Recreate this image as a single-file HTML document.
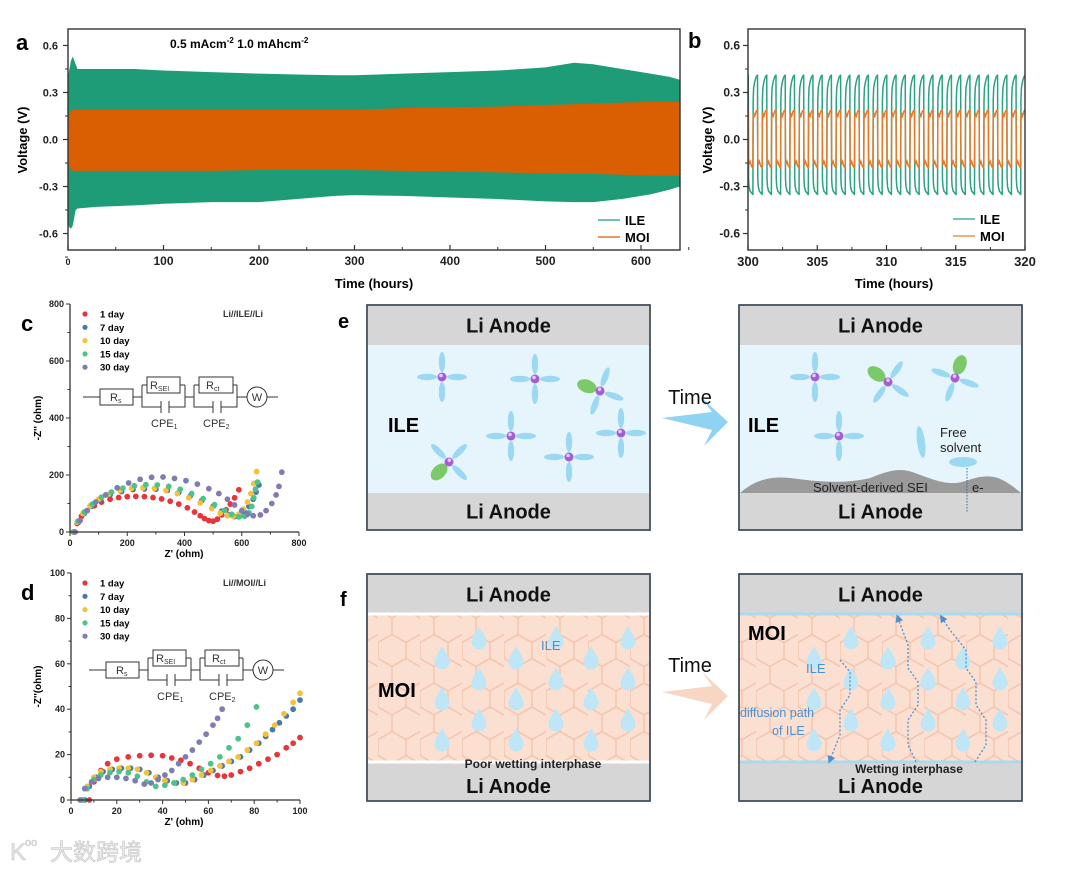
<!DOCTYPE html>
<html><head><meta charset="utf-8"><style>
html,body{margin:0;padding:0;background:#fff;width:1080px;height:869px;overflow:hidden}
svg text{font-family:"Liberation Sans",Arial,sans-serif}
</style></head><body>
<svg id="fig" width="1080" height="869" viewBox="0 0 1080 869" xmlns="http://www.w3.org/2000/svg">
<defs>
<pattern id="hex" width="42" height="48.5" patternUnits="userSpaceOnUse">
<path d="M0,12 L14,4 L28,12 L28,28 L14,36 L0,28 Z M28,12 L42,4 M28,28 L42,36 M14,36 L14,52 M14,4 L14,-12" fill="none" stroke="#f4c6b0" stroke-width="1.6"/>
</pattern>
<clipPath id="clipA"><rect x="68" y="29" width="612" height="221"/></clipPath>
<clipPath id="clipB"><rect x="748" y="29" width="277" height="221"/></clipPath>
<marker id="arr" markerWidth="6" markerHeight="6" refX="3" refY="3" orient="auto"><path d="M0,0 L6,3 L0,6 Z" fill="#4f8fd0"/></marker>
</defs>
<g id="root"></g>
</svg>
<script>
// ---------- Panel a data ----------
const aTime=[0,3,5,8,10,30,70,100,150,200,240,280,300,350,400,450,500,530,550,580,610,630,641];
const aIleTop=[0.40,0.50,0.53,0.48,0.45,0.45,0.45,0.44,0.43,0.42,0.415,0.41,0.41,0.42,0.43,0.44,0.46,0.49,0.48,0.45,0.42,0.40,0.38];
const aIleBot=[-0.55,-0.57,-0.55,-0.45,-0.44,-0.43,-0.42,-0.41,-0.40,-0.40,-0.38,-0.36,-0.355,-0.36,-0.37,-0.38,-0.395,-0.40,-0.40,-0.38,-0.35,-0.32,-0.30];
const aMoiTop=[0.15,0.18,0.19,0.19,0.19,0.19,0.19,0.19,0.19,0.19,0.19,0.19,0.19,0.20,0.205,0.21,0.22,0.225,0.23,0.235,0.24,0.24,0.24];
const aMoiBot=[-0.15,-0.19,-0.2,-0.2,-0.2,-0.2,-0.2,-0.2,-0.2,-0.195,-0.195,-0.195,-0.195,-0.2,-0.205,-0.21,-0.215,-0.22,-0.22,-0.225,-0.23,-0.23,-0.23];
const aXTicks=[0,100,200,300,400,500,600];
const vTicks=[0.6,0.3,0.0,-0.3,-0.6];
const vTickLabels=["0.6","0.3","0.0","-0.3","-0.6"];
// ---------- Panel b data ----------
const bStart=300, bEnd=320, bCycles=30, bPhase0=0.47;
const bTplPhase=[0,0.03,0.08,0.2,0.35,0.48,0.5,0.53,0.58,0.7,0.85,0.98,1.0];
const bIleV=[-0.35,0.25,0.33,0.37,0.40,0.41,0.41,-0.25,-0.30,-0.33,-0.34,-0.35,-0.35];
const bMoiV=[-0.18,0.13,0.17,0.15,0.18,0.19,0.19,-0.12,-0.16,-0.14,-0.17,-0.18,-0.18];
const bXTicks=[300,305,310,315,320];
// ---------- Panel c data (Z', -Z'') ----------
const cDay1=[[15,0],[25,30],[40,55],[60,75],[85,92],[110,105],[140,115],[170,121],[200,124],[230,125],[260,124],[290,121],[320,116],[350,108],[380,98],[410,85],[435,70],[455,57],[470,47],[485,40],[500,38],[515,45],[530,60],[545,78],[560,98],[575,120],[590,148]];
const cDay7=[[15,0],[30,35],[50,65],[75,90],[105,112],[140,130],[180,142],[220,149],[260,151],[300,150],[340,146],[380,138],[420,126],[460,110],[500,90],[530,73],[555,60],[575,54],[595,57],[610,70],[625,90],[640,115],[650,140],[660,165]];
const cDay10=[[10,0],[25,35],[45,65],[70,92],[100,115],[135,133],[175,146],[215,153],[255,155],[295,153],[335,146],[375,135],[415,120],[455,102],[495,82],[525,66],[550,57],[570,55],[590,62],[605,80],[620,105],[632,135],[642,170],[652,212]];
const cDay15=[[12,0],[28,38],[50,70],[78,98],[110,122],[145,140],[185,154],[225,162],[265,166],[305,165],[345,160],[385,150],[425,135],[465,117],[505,96],[540,76],[565,62],[590,53],[610,55],[625,68],[635,90],[642,120],[648,150],[655,175]];
const cDay30=[[18,0],[35,40],[60,75],[90,105],[125,130],[165,155],[205,172],[245,185],[285,192],[325,193],[365,188],[405,180],[445,168],[485,152],[520,135],[550,115],[575,95],[600,75],[620,62],[640,57],[665,60],[685,75],[705,100],[720,130],[730,160],[740,210]];
const cTicks=[0,200,400,600,800];
// ---------- Panel d data ----------
const dDay1=[[8,0],[10,8],[13,13],[16,16],[20,18],[25,19],[30,19.5],[35,19.7],[40,19.5],[44,18.5],[48,17.5],[52,16],[56,14],[60,12],[64,10.8],[67,10.5],[70,11],[74,12.5],[78,14],[82,16],[86,18],[90,20],[94,23],[97,25],[100,27.5]];
const dDay7=[[6,0],[8,6],[11,10],[14,12.5],[18,13.5],[22,14],[26,14],[30,13.5],[34,12],[38,10],[42,8.5],[46,7.5],[50,7.5],[54,9],[58,11],[62,13],[66,15],[70,17],[74,19],[78,22],[82,25],[85,28],[88,31],[91,34],[94,37],[97,40],[100,44]];
const dDay10=[[5,0],[7,6],[10,10],[13,12.5],[17,13.5],[21,14],[25,14],[29,13.5],[33,12],[37,10],[41,8.5],[45,7.5],[49,7.5],[53,9],[57,11],[61,13],[65,15],[69,17],[73,19],[77,22],[81,25],[85,29],[89,33],[93,38],[97,43],[100,47]];
const dDay15=[[5,0],[7,5],[10,9],[13,11],[17,12],[21,12.5],[25,12],[29,10.5],[33,8],[37,6],[41,6.5],[45,7.5],[49,9],[53,11],[57,13.5],[61,16],[65,19],[69,23],[73,27],[77,33],[81,41]];
const dDay30=[[4,0],[6,5],[9,8],[12,9.5],[16,10],[20,10],[24,9.5],[28,8.5],[32,7],[35,7.5],[38,9],[41,11],[44,13],[47,16],[50,19],[53,22],[56,25.5],[59,29],[62,33],[64,36],[66,40]];
const dTicks=[0,20,40,60,80,100];
const dayLabels=["1 day","7 day","10 day","15 day","30 day"];

const NS="http://www.w3.org/2000/svg";
const root=document.getElementById('root');
function el(tag,attrs,parent){const e=document.createElementNS(NS,tag);for(const k in attrs)e.setAttribute(k,attrs[k]);(parent||root).appendChild(e);return e;}
function txt(s,attrs,parent){const t=el('text',attrs,parent);t.textContent=s;return t;}

const ax=t=>68+t*0.955, ay=v=>139.5-v*156.7;
const bx=t=>748+(t-300)*(277/20), by=v=>139.5-v*156.7;
const cx=z=>70+z*229/800, cy=z=>532-z*228/800;
const dx=z=>71+z*2.29, dy=z=>800-z*2.27;

// ======== Panel a ========
let g=el('g',{});


let pa=el('g',{'clip-path':'url(#clipA)'},g);
let ptsI=aTime.map((t,i)=>ax(t)+','+ay(aIleTop[i])).concat(aTime.map((t,i)=>ax(t)+','+ay(aIleBot[i])).reverse()).join(' ');
let ileBand=el('polygon',{points:ptsI,fill:'#1e9c77'},pa);


let ptsM=aTime.map((t,i)=>ax(t)+','+ay(aMoiTop[i])).concat(aTime.map((t,i)=>ax(t)+','+ay(aMoiBot[i])).reverse()).join(' ');
let moiBand=el('polygon',{points:ptsM,fill:'#d95f02'},pa);


el('rect',{x:68,y:29,width:612,height:221,fill:'none',stroke:'#333','stroke-width':1.4},g);
aXTicks.forEach(t=>{el('line',{x1:ax(t),x2:ax(t),y1:250,y2:245,stroke:'#333','stroke-width':1.2},g);
 el('line',{x1:ax(t+50),x2:ax(t+50),y1:250,y2:247,stroke:'#333'},g);
 let l=txt(String(t),{x:ax(t),y:265,'text-anchor':'middle','font-size':t===0?9:12,'font-weight':'bold',fill:'#222'},g);
 
 });
vTicks.forEach((v,i)=>{el('line',{x1:63,x2:68,y1:ay(v),y2:ay(v),stroke:'#333','stroke-width':1.2},g);
 el('line',{x1:65,x2:68,y1:ay(v-0.15),y2:ay(v-0.15),stroke:'#333'},g);
 let l=txt(vTickLabels[i],{x:58,y:ay(v)+4,'text-anchor':'end','font-size':11,'font-weight':'bold',fill:'#222'},g);
 
 });
let t1=txt('Time (hours)',{x:374,y:288,'text-anchor':'middle','font-size':13,'font-weight':'bold'},g);


let t2=txt('Voltage (V)',{x:0,y:0,transform:'translate(27,140) rotate(-90)','text-anchor':'middle','font-size':13,'font-weight':'bold'},g);


let cond=el('text',{x:170,y:48,'font-size':12,'font-weight':'bold'},g);
cond.innerHTML='0.5 mAcm<tspan dy="-5" font-size="8">-2</tspan><tspan dy="5">  1.0 mAhcm</tspan><tspan dy="-5" font-size="8">-2</tspan>';


let la=txt('a',{x:16,y:50,'font-size':22,'font-weight':'bold'},g);


[['ILE','#1e9c77',220],['MOI','#d95f02',237]].forEach(([n,c,y])=>{let lg=el('g',{},g);
 
 
 el('line',{x1:598,x2:620,y1:y,y2:y,stroke:c,'stroke-width':1.2},lg);
 txt(n,{x:625,y:y+5,'font-size':13,'font-weight':'bold'},lg);});

// ======== Panel b ========
g=el('g',{});


let pb=el('g',{'clip-path':'url(#clipB)'},g);
const period=(bEnd-bStart)/bCycles;
function wave(vals){let pts=[];for(let k=-1;k<=bCycles+1;k++){bTplPhase.forEach((p,i)=>{const t=bStart+(k+p-bPhase0)*period;pts.push(bx(t).toFixed(2)+','+by(vals[i]).toFixed(2));});}return pts.join(' ');}
let wI=el('polyline',{points:wave(bIleV),fill:'none',stroke:'#2aa283','stroke-width':1.5},pb);


let wM=el('polyline',{points:wave(bMoiV),fill:'none',stroke:'#e67a2a','stroke-width':1.5},pb);


el('rect',{x:748,y:29,width:277,height:221,fill:'none',stroke:'#333','stroke-width':1.4},g);
bXTicks.forEach(t=>{el('line',{x1:bx(t),x2:bx(t),y1:250,y2:245,stroke:'#333','stroke-width':1.2},g);
 if(t<320)el('line',{x1:bx(t+2.5),x2:bx(t+2.5),y1:250,y2:247,stroke:'#333'},g);
 let l=txt(String(t),{x:bx(t),y:266,'text-anchor':'middle','font-size':13,'font-weight':'bold',fill:'#222'},g);
 
 });
vTicks.forEach((v,i)=>{el('line',{x1:743,x2:748,y1:by(v),y2:by(v),stroke:'#333','stroke-width':1.2},g);
 el('line',{x1:745,x2:748,y1:by(v-0.15),y2:by(v-0.15),stroke:'#333'},g);
 let l=txt(vTickLabels[i],{x:740,y:by(v)+4,'text-anchor':'end','font-size':12,'font-weight':'bold',fill:'#222'},g);
 
 });
t1=txt('Time (hours)',{x:894,y:288,'text-anchor':'middle','font-size':13,'font-weight':'bold'},g);


t2=txt('Voltage (V)',{x:0,y:0,transform:'translate(712,140) rotate(-90)','text-anchor':'middle','font-size':13,'font-weight':'bold'},g);


la=txt('b',{x:688,y:48,'font-size':22,'font-weight':'bold'},g);


[['ILE','#2aa283',219],['MOI','#e67a2a',236]].forEach(([n,c,y])=>{let lg=el('g',{},g);
 
 
 el('line',{x1:953,x2:975,y1:y,y2:y,stroke:c,'stroke-width':1.2},lg);
 txt(n,{x:980,y:y+5,'font-size':13,'font-weight':'bold'},lg);});

// ======== EIS panels ========
const dayColors=['#e8353a','#4a79a8','#f4c23a','#4dc28b','#7f7db0'];
function circuit(gp,x0,y0){
 const c=el('g',{transform:`translate(${x0},${y0})`},gp);
 
 
 const s={stroke:'#333','stroke-width':1,fill:'none'};
 el('path',Object.assign({d:'M0,0 H17 M50,0 H59 M59,-12 V10 H78 M86,10 H102 V-12 M102,0 H111 M111,-12 V10 H130 M138,10 H154 V-12 M154,0 H164 M184,0 H195 M59,-12 H64 M97,-12 H102 M111,-12 H116 M150,-12 H154'},s),c);
 el('rect',Object.assign({x:17,y:-8,width:33,height:16},s),c);
 el('rect',Object.assign({x:64,y:-20,width:33,height:16},s),c);
 el('rect',Object.assign({x:116,y:-20,width:34,height:16},s),c);
 el('path',Object.assign({d:'M78,4 V16 M86,4 V16 M130,4 V16 M138,4 V16'},s),c);
 el('circle',Object.assign({cx:174,cy:0,r:10},s),c);
 const f={'font-size':11,fill:'#333'};
 let e=el('text',Object.assign({x:27,y:4},f),c);e.innerHTML='R<tspan font-size="7" dy="2">s</tspan>';
 e=el('text',Object.assign({x:67,y:-8},f),c);e.innerHTML='R<tspan font-size="7" dy="2">SEI</tspan>';
 e=el('text',Object.assign({x:123,y:-8},f),c);e.innerHTML='R<tspan font-size="7" dy="2">ct</tspan>';
 txt('W',{x:174,y:4,'text-anchor':'middle','font-size':11,fill:'#333'},c);
 e=el('text',Object.assign({x:68,y:30},f),c);e.innerHTML='CPE<tspan font-size="7" dy="2">1</tspan>';
 e=el('text',Object.assign({x:120,y:30},f),c);e.innerHTML='CPE<tspan font-size="7" dy="2">2</tspan>';
}
function eisPanel(name,series,X,Y,ticks,box,ylab,cellLabel,letter,lx,ly,minorStep){
 const gp=el('g',{});
 
 
 series.forEach((ser,si)=>{const sg=el('g',{fill:dayColors[si]},gp);
  
  
  ser.forEach(p=>{const d=el('circle',{cx:X(p[0]),cy:Y(p[1]),r:2.9},sg);
   
   });});
 el('path',{d:`M${box[0]},${box[1]} V${box[3]} H${box[2]}`,fill:'none',stroke:'#333','stroke-width':1.3},gp);
 ticks.forEach(t=>{
  el('line',{x1:X(t),x2:X(t),y1:box[3],y2:box[3]+4,stroke:'#333'},gp);
  el('line',{x1:box[0]-4,x2:box[0],y1:Y(t),y2:Y(t),stroke:'#333'},gp);
  if(t<ticks[ticks.length-1]){el('line',{x1:X(t+minorStep),x2:X(t+minorStep),y1:box[3],y2:box[3]+2.5,stroke:'#333'},gp);
   el('line',{x1:box[0]-2.5,x2:box[0],y1:Y(t+minorStep),y2:Y(t+minorStep),stroke:'#333'},gp);}
  let l=txt(String(t),{x:X(t),y:box[3]+14,'text-anchor':'middle','font-size':9,'font-weight':'bold',fill:'#222'},gp);
  
  
  l=txt(String(t),{x:box[0]-6,y:Y(t)+3,'text-anchor':'end','font-size':9,'font-weight':'bold',fill:'#222'},gp);
  
  });
 let xt=txt("Z' (ohm)",{x:184,y:box[3]+25,'text-anchor':'middle','font-size':10,'font-weight':'bold'},gp);
 
 
 let yt=txt(ylab,{x:0,y:0,transform:`translate(41,${(box[1]+box[3])/2}) rotate(-90)`,'text-anchor':'middle','font-size':10,'font-weight':'bold'},gp);
 
 
 dayLabels.forEach((d,i)=>{const lg=el('g',{},gp);
  
  
  el('circle',{cx:85,cy:ly+i*13.3,r:2.6,fill:dayColors[i]},lg);
  txt(d,{x:100,y:ly+i*13.3+3.5,'font-size':9.5,'font-weight':'bold'},lg);});
 let cl=txt(cellLabel,{x:223,y:ly+3,'font-size':9,'font-weight':'bold',fill:'#333'},gp);
 
 
 let pl=txt(letter,{x:lx,y:ly+17,'font-size':22,'font-weight':'bold'},gp);
 
 
 return gp;
}
let gc=eisPanel('panel-c-eis-ile',[cDay1,cDay7,cDay10,cDay15,cDay30],cx,cy,cTicks,[70,304,299,532],"-Z'' (ohm)",'Li//ILE//Li','c',21,314,100);
circuit(gc,83,397);
let gd=eisPanel('panel-d-eis-moi',[dDay1,dDay7,dDay10,dDay15,dDay30],dx,dy,dTicks,[71,573,300,800],"-Z''(ohm)",'Li//MOI//Li','d',21,583,10);
circuit(gd,89,670);

// ======== Schematics ========
function anodeBox(gp,x,y,w,h,topH,botY,midFill,botOff){
 el('rect',{x:x,y:y,width:w,height:h,fill:midFill,stroke:'#3d4b58','stroke-width':1.5},gp);
 el('rect',{x:x+1,y:y+1,width:w-2,height:topH,fill:'#d6d6d6'},gp);
 el('rect',{x:x+1,y:botY,width:w-2,height:y+h-botY-1,fill:'#d6d6d6'},gp);
 el('rect',{x:x,y:y,width:w,height:h,fill:'none',stroke:'#3d4b58','stroke-width':1.5},gp);
 let a=txt('Li Anode',{x:x+w/2,y:y+topH/2+8,'text-anchor':'middle','font-size':20,'font-weight':'bold',fill:'#111'},gp);
 
 
 a=txt('Li Anode',{x:x+w/2,y:(botY+y+h)/2+(botOff||7),'text-anchor':'middle','font-size':20,'font-weight':'bold',fill:'#111'},gp);
 
 
}
function molecule(gp,x,y,rot,green){
 const m=el('g',{transform:`translate(${x},${y}) rotate(${rot})`},gp);
 
 
 [0,90,180,270].forEach((a,i)=>{ if(green===i)el('ellipse',{cx:14,cy:0,rx:10,ry:6.5,fill:'#7cc96a',transform:`rotate(${a})`},m);
  else el('ellipse',{cx:15,cy:0,rx:10,ry:3.2,fill:'#9bd8f2',transform:`rotate(${a})`},m);});
 el('circle',{cx:0,cy:0,r:4.5,fill:'#a35dd8'},m);
 el('circle',{cx:-1,cy:-1.5,r:1.8,fill:'#e7c8ff'},m);
}
// panel e
let ge=el('g',{});


let le=txt('e',{x:338,y:328,'font-size':20,'font-weight':'bold'},ge);


anodeBox(ge,367,305,283,225,39,493,'#e6f5fb');
[[442,377,0,-1],[535,379,0,-1],[600,391,20,2],[511,436,0,-1],[621,433,0,-1],[569,457,0,-1],[449,462,45,1]].forEach(m=>molecule(ge,m[0],m[1],m[2],m[3]));
let ile=txt('ILE',{x:388,y:432,'font-size':20,'font-weight':'bold'},ge);


let arrE=el('path',{d:'M662,418 L712,412 L702,398 L728,422 L704,446 L712,430 Z',fill:'#8fd3f3'},ge);


let te=txt('Time',{x:690,y:404,'text-anchor':'middle','font-size':20,fill:'#111'},ge);


anodeBox(ge,739,305,283,225,39,493,'#e6f5fb');
let sei=el('path',{d:'M740,493 C755,480 770,476 790,478 C820,482 845,484 870,478 C890,470 900,468 912,472 C930,478 945,486 962,482 C975,478 985,474 998,478 C1008,482 1015,488 1021,493 Z',fill:'#9a9a9a'},ge);


[[815,377,0,-1],[888,382,35,2],[955,378,20,3],[839,436,0,-1]].forEach(m=>molecule(ge,m[0],m[1],m[2],m[3]));
el('ellipse',{cx:921,cy:442,rx:4,ry:16,fill:'#9bd8f2',transform:'rotate(-8 921 442)'},ge);
el('ellipse',{cx:963,cy:462,rx:14,ry:5,fill:'#9bd8f2'},ge);
ile=txt('ILE',{x:748,y:432,'font-size':20,'font-weight':'bold'},ge);


let fs=txt('Free',{x:940,y:437,'font-size':13,fill:'#222'},ge);


txt('solvent',{x:940,y:452,'font-size':13,fill:'#222'},ge);
let sl=txt('Solvent-derived SEI',{x:813,y:492,'font-size':13,fill:'#222'},ge);


txt('e-',{x:972,y:492,'font-size':13,fill:'#222'},ge);
el('line',{x1:967,y1:468,x2:967,y2:512,stroke:'#2f6f9a','stroke-width':1,'stroke-dasharray':'1.5,1.5'},ge);

// panel f
let gf=el('g',{});


let lf=txt('f',{x:340,y:606,'font-size':20,'font-weight':'bold'},gf);


function drop(gp,x,y){const d=el('path',{d:`M${x},${y-12} C${x+3},${y-6} ${x+7.5},${y-1} ${x+7.5},${y+4} A7.5,7.5 0 1 1 ${x-7.5},${y+4} C${x-7.5},${y-1} ${x-3},${y-6} ${x},${y-12} Z`,fill:'#bfe6f6'},gp);
 
 }
function moiBox(x,wetting){
 anodeBox(gf,x,574,283,227,39,763,'#fbe0d2',11);
 el('rect',{x:x+1,y:614,width:281,height:148,fill:'url(#hex)'},gf);
 el('line',{x1:x+1,x2:x+282,y1:614,y2:614,stroke:wetting?'#a8daf0':'#fff','stroke-width':3},gf);
 el('line',{x1:x+1,x2:x+282,y1:762,y2:762,stroke:wetting?'#a8daf0':'#fff','stroke-width':3},gf);
 const cols=[75,112,149,189,224,261];
 cols.forEach((c,i)=>{const off=(i%2===0)?20:0;for(let r=0;r<3;r++){const yy=638+off+r*41; if(yy<750)drop(gf,x+c,yy);}});
}
moiBox(367,false);
moiBox(739,true);
let mo=txt('MOI',{x:378,y:697,'font-size':20,'font-weight':'bold'},gf);


let il=txt('ILE',{x:541,y:650,'font-size':13,fill:'#4a90d0'},gf);


let pw=txt('Poor wetting interphase',{x:533,y:768,'text-anchor':'middle','font-size':12,'font-weight':'bold',fill:'#222'},gf);


let arrF=el('path',{d:'M662,692 L712,686 L702,672 L728,696 L704,720 L712,704 Z',fill:'#f8d6c4'},gf);


let tf=txt('Time',{x:690,y:672,'text-anchor':'middle','font-size':20,fill:'#111'},gf);


mo=txt('MOI',{x:748,y:640,'font-size':20,'font-weight':'bold'},gf);


txt('ILE',{x:806,y:673,'font-size':13,fill:'#4a90d0'},gf);
let dp=txt('diffusion path',{x:740,y:717,'font-size':12.5,fill:'#4a90d0'},gf);


txt('of ILE',{x:772,y:735,'font-size':12.5,fill:'#4a90d0'},gf);
[[828,762,'M840,660 L850,672 L850,695 L840,710 L840,735 L830,760'],[898,616,'M916,762 L908,745 L908,720 L918,705 L918,682 L908,668 L908,645 L898,618'],[941,616,'M975,762 L986,745 L986,720 L976,705 L976,682 L966,668 L966,650 L950,630 L942,618']].forEach(p=>{
 const pp=el('path',{d:p[2],fill:'none',stroke:'#4f8fd0','stroke-width':1.3,'stroke-dasharray':'2,2','marker-end':'url(#arr)'},gf);
 
 });
let wi=txt('Wetting interphase',{x:909,y:773,'text-anchor':'middle','font-size':12,'font-weight':'bold',fill:'#222'},gf);



// watermark
let wm=el('g',{},root);


txt('K',{x:10,y:860,'font-size':24,fill:'#e4e4e4',stroke:'#c8c8c8','stroke-width':0.6},wm);
txt('oo',{x:25,y:846,'font-size':11,fill:'#e4e4e4',stroke:'#c8c8c8','stroke-width':0.5},wm);
const wt=txt('大数跨境',{x:50,y:860,'font-size':23,fill:'#eaeaea',stroke:'#c4c4c4','stroke-width':0.6},wm);
wt.setAttribute('style','font-family:"Liberation Sans","Noto Sans CJK SC",sans-serif');
</script>
</body></html>
